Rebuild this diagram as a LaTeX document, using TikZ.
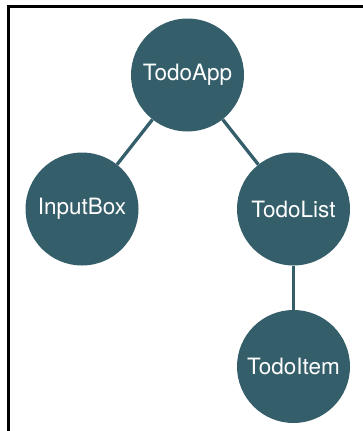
\documentclass[tikz,border=0pt]{standalone}
\usepackage{fontspec}
\setmainfont{TeX Gyre Heros}
\definecolor{nodefill}{HTML}{345E6A}
\begin{document}
\begin{tikzpicture}[x=1pt,y=-1pt,
  comp/.style={circle,fill=nodefill,minimum size=113pt,inner sep=0pt,text=white,font=\fontsize{22.5}{26}\selectfont},
  link/.style={draw=nodefill,line width=3.3pt},
  frame/.style={draw=black,line width=3pt}]
\useasboundingbox (0,0) rectangle (363,431);
\draw[frame] (8.5,431) -- (8.5,6.5) -- (363,6.5);
\node[comp] (app) at (187.5,75) {TodoApp};
\node[comp] (input) at (82,209) {InputBox};
\node[comp] (list) at (293.5,209) {TodoList};
\node[comp] (item) at (293.5,366.5) {TodoItem};
\draw[link] (app) -- (input);
\draw[link] (app) -- (list);
\draw[link] (list) -- (item);
\end{tikzpicture}
\end{document}
